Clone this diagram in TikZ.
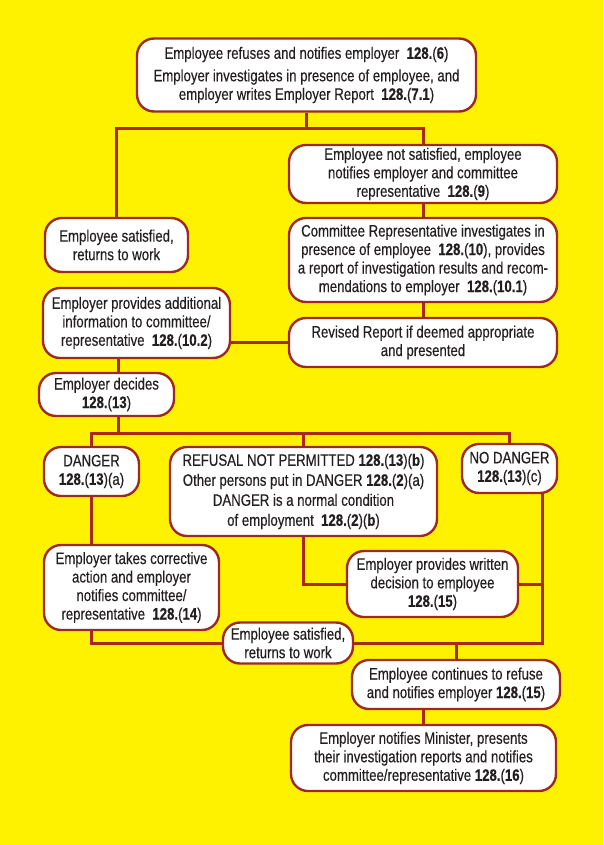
\documentclass[tikz,border=0pt]{standalone}
\usepackage{xcolor}
\usepackage{fontspec}
\setmainfont{Liberation Sans}[FakeStretch=0.8,FakeBold=0.35]
\usepackage{tikz}
\usetikzlibrary{positioning}

\definecolor{bgyellow}{HTML}{FFF200}
\definecolor{boxred}{HTML}{9E2A1E}
\definecolor{linered}{HTML}{A82A14}
\definecolor{inkgray}{HTML}{231F20}

\newcommand{\sect}[1]{\textbf{128.}(\textbf{#1})}

\begin{document}
\begin{tikzpicture}[x=1pt,y=-1pt,
		box/.style={draw=boxred,line width=2.4pt,fill=white,rounded corners=17pt,align=center,inner sep=1pt,
			text=inkgray,font=\fontsize{16.5}{18.5}\selectfont},
		link/.style={draw=linered,line width=3pt}]
			
			\fill[bgyellow] (0,0) rectangle (603,845);
			\useasboundingbox (0,0) rectangle (603,845);
			
			\node[box,minimum width=339pt,minimum height=73pt] (refuse) at (306.5,75) {Employee refuses and notifies employer \ \sect{6}\\[4pt]Employer investigates in presence of employee, and\\employer writes Employer Report \ \sect{7.1}};
			\node[box,minimum width=268pt,minimum height=58pt] (notsat) at (423,174) {Employee not satisfied, employee\\notifies employer and committee\\representative \ \sect{9}};
			\node[box,minimum width=143pt,minimum height=54pt] (sat1) at (116.5,245) {Employee satisfied,\\returns to work};
			\node[box,minimum width=268pt,minimum height=84pt] (commrep) at (423,260) {Committee Representative investigates in\\presence of employee \ \sect{10}, provides\\a report of investigation results and recom-\\mendations to employer \ \sect{10.1}};
			\node[box,minimum width=268pt,minimum height=49pt] (revised) at (423,342.5) {Revised Report if deemed appropriate\\and presented};
			\node[box,minimum width=187pt,minimum height=70pt] (addinfo) at (136.5,323) {Employer provides additional\\information to committee/\\representative \ \sect{10.2}};
			\node[box,minimum width=135pt,minimum height=43pt] (decides) at (106.5,394.5) {Employer decides\\\sect{13}};
			\node[box,minimum width=95pt,minimum height=49pt] (danger) at (91.5,471.5) {DANGER\\\sect{13}(a)};
			\node[box,minimum width=267pt,minimum height=89pt] (notperm) at (303.5,491.5) {REFUSAL NOT PERMITTED \sect{13}(\textbf{b})\\[1.5pt]Other persons put in DANGER \sect{2}(a)\\[1.5pt]DANGER is a normal condition\\[1.5pt]of employment \ \sect{2}(\textbf{b})};
			\node[box,minimum width=95pt,minimum height=49pt] (nodanger) at (509.5,468.5) {NO DANGER\\\sect{13}(c)};
			\node[box,minimum width=175pt,minimum height=85pt] (correct) at (131.5,587.5) {Employer takes corrective\\action and employer\\notifies committee/\\representative \ \sect{14}};
			\node[box,minimum width=171pt,minimum height=66pt] (written) at (432.5,584) {Employer provides written\\decision to employee\\\sect{15}};
			\node[box,minimum width=130pt,minimum height=41pt] (sat2) at (288,643) {Employee satisfied,\\returns to work};
			\node[box,minimum width=208pt,minimum height=49pt] (continues) at (456,684.5) {Employee continues to refuse\\and notifies employer \sect{15}};
			\node[box,minimum width=265pt,minimum height=66pt] (minister) at (423.5,758) {Employer notifies Minister, presents\\their investigation reports and notifies\\committee/representative \sect{16}};
			
			\coordinate (jtop) at (303,129);
			\coordinate (xl) at (118,0);
			\coordinate (jmid) at (118,433);
			\coordinate (xr) at (542,0);
			
			\draw[link] (refuse.south) -- (refuse.south |- jtop);
			\draw[link] (sat1.north) -- (sat1.north |- jtop) -- (notsat.north |- jtop) -- (notsat.north);
			\draw[link] (notsat.south) -- (commrep.north);
			\draw[link] (commrep.south) -- (revised.north);
			\draw[link] (revised.west) -- (revised.west -| addinfo.east);
			\draw[link] (addinfo.south -| xl) -- (decides.north -| xl);
			\draw[link] (decides.south -| xl) -- (jmid);
			\draw[link] (danger.north) -- (danger.north |- jmid) -- (nodanger.north |- jmid) -- (nodanger.north);
			\draw[link] (notperm.north) -- (notperm.north |- jmid);
			\draw[link] (danger.south) -- (danger.south |- correct.north);
			\draw[link] (notperm.south) |- (written.west);
			\draw[link] (nodanger.south -| xr) -- (xr |- sat2.east) -- (sat2.east);
			\draw[link] (written.east) -- (written.east -| xr);
			\draw[link] (danger.south |- correct.south) |- (sat2.west);
			\draw[link] (continues.north) -- (continues.north |- sat2.east);
			\draw[link] (continues.south -| minister.north) -- (minister.north);
			
		\end{tikzpicture}
\end{document}
